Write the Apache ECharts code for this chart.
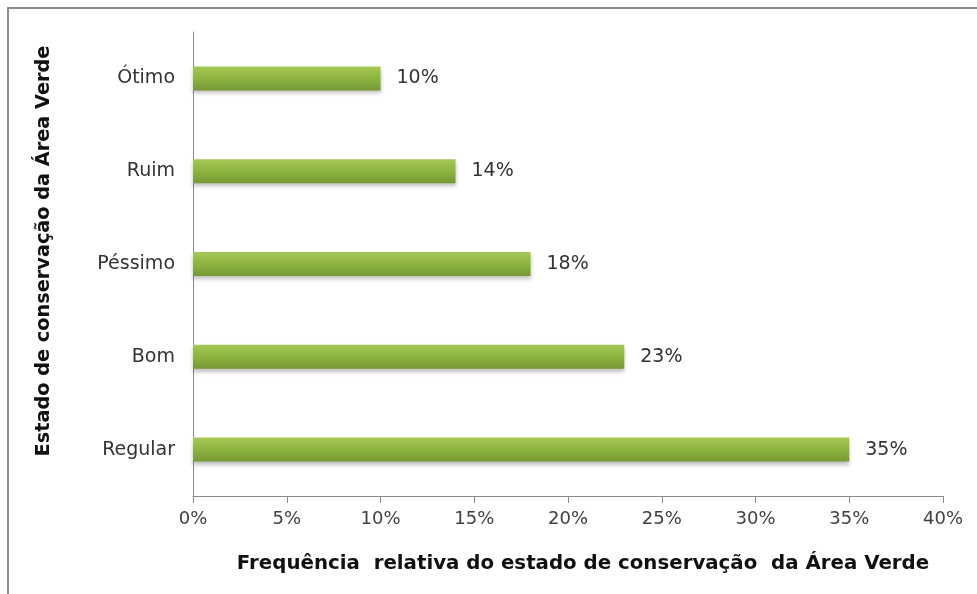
<!DOCTYPE html>
<html><head><meta charset="utf-8">
<script src="https://cdn.jsdelivr.net/npm/echarts@6/dist/echarts.min.js"></script>
<style>html,body{margin:0;padding:0;background:#fff}#c{width:977px;height:594px}</style>
</head><body><div id="c"></div>
<script>
const categories = ['Regular', 'Bom', 'Péssimo', 'Ruim', 'Ótimo'];
const values = [35, 23, 18, 14, 10];
const xTicks = [0, 5, 10, 15, 20, 25, 30, 35, 40];
const xTitle = 'Frequência  relativa do estado de conservação  da Área Verde';
const yTitle = 'Estado de conservação da Área Verde';

const FONT = 'DejaVu Sans, Verdana, sans-serif';
const chart = echarts.init(document.getElementById('c'), null, {renderer: 'canvas'});
chart.setOption({
  animation: false,
  backgroundColor: '#ffffff',
  graphic: [{
    type: 'rect', shape: {x: 8, y: 8, width: 1000, height: 620},
    style: {fill: 'none', stroke: '#8c8c8c', lineWidth: 2}, silent: true, z: -1
  }],
  grid: {left: 193, right: 34, top: 32, bottom: 98, containLabel: false},
  xAxis: {
    type: 'value', min: xTicks[0], max: xTicks[xTicks.length - 1], interval: 5,
    splitLine: {show: false},
    axisLine: {show: true, lineStyle: {color: '#8a8a8a', width: 1}},
    axisTick: {show: true, length: 7, lineStyle: {color: '#8a8a8a'}},
    axisLabel: {formatter: '{value}%', color: '#404040', fontSize: 18, fontFamily: FONT, margin: 14},
    name: xTitle, nameLocation: 'middle', nameGap: 58,
    nameTextStyle: {fontSize: 19.8, fontWeight: 'bold', color: '#111', fontFamily: FONT, padding: [0, 0, 0, 30]}
  },
  yAxis: {
    type: 'category', data: categories,
    axisLine: {show: true, lineStyle: {color: '#8a8a8a', width: 1}},
    axisTick: {show: false},
    axisLabel: {color: '#333', fontSize: 19, fontFamily: FONT, margin: 18},
    name: yTitle, nameLocation: 'middle', nameGap: 140, nameRotate: 90,
    nameTextStyle: {fontSize: 19.3, fontWeight: 'bold', color: '#111', fontFamily: FONT, padding: [0, 0, 0, 26]}
  },
  series: [{
    type: 'bar', data: values, barWidth: 24,
    itemStyle: {
      color: new echarts.graphic.LinearGradient(0, 0, 0, 1, [
        {offset: 0, color: '#a5c955'}, {offset: 0.5, color: '#8db43f'}, {offset: 1, color: '#769836'}
      ]),
      shadowColor: 'rgba(0,0,0,0.25)', shadowBlur: 4, shadowOffsetY: 3
    },
    label: {show: true, position: 'right', distance: 16, formatter: '{c}%', color: '#333', fontSize: 19, fontFamily: FONT}
  }]
});
</script></body></html>
